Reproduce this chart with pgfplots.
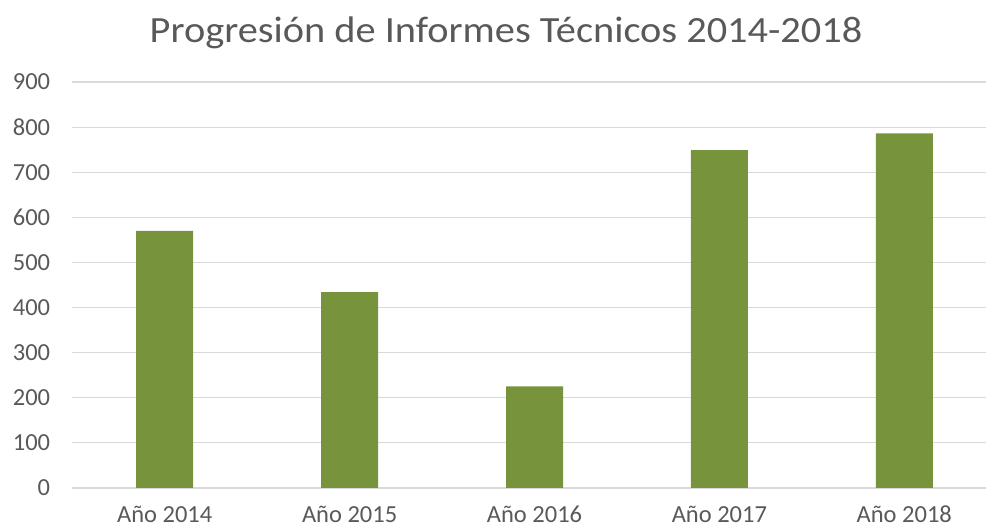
\documentclass[border=0pt]{standalone}
\usepackage{pgfplots}
\pgfplotsset{compat=1.18}
\usepackage{fontspec}
\setmainfont{Carlito}
\definecolor{bargreen}{HTML}{77933C}
\definecolor{txtgray}{HTML}{595959}
\definecolor{gridgray}{HTML}{D9D9D9}
\begin{document}
\begin{tikzpicture}
\useasboundingbox (-72.3pt,-41pt) rectangle (913.7pt,488pt);
\begin{axis}[
  scale only axis,
  width=913.7pt, height=406pt,
  xmin=-0.5, xmax=4.442, ymin=0, ymax=900,
  ytick={0,100,...,900},
  xtick=data,
  xticklabels={Año 2014,Año 2015,Año 2016,Año 2017,Año 2018},
  axis line style={draw=none},
  major tick length=0pt,
  ymajorgrids, grid style={gridgray, line width=1.2pt},
  tick label style={font=\fontsize{24.5}{29}\selectfont, text=txtgray},
  /pgf/number format/assume math mode=true,
  yticklabel style={inner sep=0pt, anchor=east, xshift=-22pt},
  xticklabel style={inner sep=0pt, anchor=north, yshift=-18pt},
  clip=false,
]
\addplot[ybar, bar width=57pt, fill=bargreen, draw=none] coordinates {(0,570) (1,434) (2,225) (3,749) (4,786)};
\end{axis}
\node[anchor=base, text=txtgray, font=\fontsize{37}{44}\selectfont] at (433.7pt,445pt) {\scalebox{1.09}[1]{Progresión de Informes Técnicos 2014-2018}};
\end{tikzpicture}
\end{document}
